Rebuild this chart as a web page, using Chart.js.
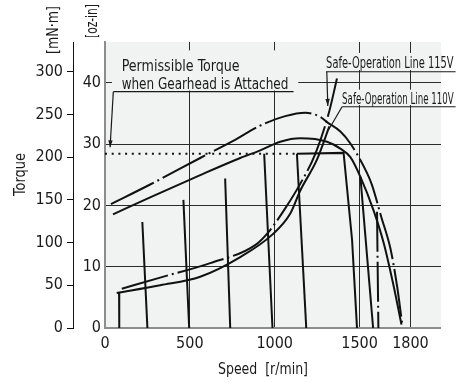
<!DOCTYPE html>
<html>
<head>
<meta charset="utf-8">
<script src="https://cdn.jsdelivr.net/npm/chart.js@4.4.1/dist/chart.umd.min.js"></script>
<style>
  html, body { margin: 0; padding: 0; background: #fff; }
  canvas { display: block; }
</style>
</head>
<body>
<canvas id="chart" width="467" height="383"></canvas>
<script>
// Axis ticks
const speedTicks = [0, 500, 1000, 1500, 1800];          // r/min
const torqueTicks = [0, 50, 100, 150, 200, 250, 300];   // mN·m
const ozTicks = [0, 10, 20, 30, 40];                     // oz-in

// Speed-torque curve at 115V (dash-dot)
const full115Speed  = [35, 266, 561, 755, 915, 1062, 1180, 1269, 1308, 1387, 1446, 1545, 1574, 1628, 1682, 1722, 1751];
const full115Torque = [145, 168, 199, 219, 237, 248, 252, 247, 241, 230, 216, 181, 167, 130, 93, 48, 5];

// Speed-torque curve at 110V (solid)
const full110Speed  = [47, 266, 561, 797, 915, 1033, 1151, 1308, 1387, 1446, 1505, 1582, 1643, 1700, 1747];
const full110Torque = [133, 153, 179, 199, 208, 218, 222, 218, 210, 200, 177, 138, 99, 50, 4];

// Safe-operation lines
const safe115Speed  = [99, 325, 620, 885, 962, 1062, 1151, 1240, 1318, 1367];
const safe115Torque = [46, 59, 76, 97, 112, 140, 169, 204, 251, 292];
const safe110Speed  = [69, 325, 561, 797, 984, 1092, 1151, 1249, 1322];
const safe110Torque = [41, 50, 60, 83, 109, 134, 161, 197, 236];

// Speed-setting lines (top point -> bottom point at zero torque)
const setTopSpeed     = [83, 220, 462, 708, 938, 1131, 1505];
const setTopTorque    = [41, 124, 150, 175, 204, 204, 177];
const setBottomSpeed  = [84, 250, 496, 738, 987, 1186, 1580];
const dashSetSpeed  = [1603, 1611];   // 115V setting line
const dashSetTorque = [136, 0];

// Permissible torque when gearhead is attached
const permSpeed  = [0, 1131];
const permTorque = [204, 204];
const boxSpeed   = [1131, 1406, 1456, 1485];
const boxTorque  = [204, 205, 103, 0];

const X_MAX = 1980, Y_MAX = 334.8, OZ_MAX = 46.64;
const PLOT_BG = '#f0f3f2';
const INK = '#111';

function pickFont() {
  const c = document.createElement('canvas').getContext('2d');
  const probe = 'Permissible Torque 0123';
  c.font = '40px monospace';
  const base = c.measureText(probe).width;
  for (const f of ['Liberation Sans Narrow', 'DejaVu Sans Condensed', 'Roboto Condensed']) {
    c.font = `40px "${f}", monospace`;
    if (c.measureText(probe).width !== base) return `"${f}", "Liberation Sans", sans-serif`;
  }
  return '"Liberation Sans", sans-serif';
}
const FONT = pickFont();

const pts = (xs, ys) => xs.map((x, i) => ({ x, y: ys[i] }));
const DASHDOT = [48, 4, 2, 4];

const datasets = [
  { data: pts(full115Speed, full115Torque), borderDash: DASHDOT, cubicInterpolationMode: 'monotone' },
  { data: pts(full110Speed, full110Torque), cubicInterpolationMode: 'monotone' },
  { data: pts(safe115Speed, safe115Torque), borderDash: DASHDOT, cubicInterpolationMode: 'monotone' },
  { data: pts(safe110Speed, safe110Torque), cubicInterpolationMode: 'monotone' },
  { data: pts(permSpeed, permTorque), borderDash: [2, 4.7], borderCapStyle: 'butt' },
  { data: pts(boxSpeed, boxTorque) },
  { data: pts(dashSetSpeed, dashSetTorque), borderDash: [40, 4, 2, 4] }
];
setTopSpeed.forEach((s, i) => {
  datasets.push({ data: [{ x: s, y: setTopTorque[i] }, { x: setBottomSpeed[i], y: 0 }] });
});

// Panels behind annotation text: [speed0, torque0, speed1, torque1]
const panels = [
  [41, 325, 1139, 278],
  [1275, 322, 2100, 302],
  [1375, 279, 2100, 261]
];

function fitText(ctx, str, x, y, size, width, opts = {}) {
  ctx.save();
  ctx.font = `${size}px ${FONT}`;
  ctx.textAlign = opts.align || 'left';
  ctx.textBaseline = opts.baseline || 'alphabetic';
  const w = ctx.measureText(str).width;
  ctx.translate(x, y);
  if (opts.rot) ctx.rotate(opts.rot);
  if (width) ctx.scale(width / w, 1);
  ctx.fillText(str, 0, 0);
  ctx.restore();
}

function arrow(ctx, x0, y0, x1, y1) {
  ctx.beginPath(); ctx.moveTo(x0, y0); ctx.lineTo(x1, y1); ctx.stroke();
  const a = Math.atan2(y1 - y0, x1 - x0), L = 7, W = 2.2;
  ctx.beginPath();
  ctx.moveTo(x1, y1);
  ctx.lineTo(x1 - L * Math.cos(a) + W * Math.sin(a), y1 - L * Math.sin(a) - W * Math.cos(a));
  ctx.lineTo(x1 - L * Math.cos(a) - W * Math.sin(a), y1 - L * Math.sin(a) + W * Math.cos(a));
  ctx.closePath(); ctx.fill();
}

const notes = {
  id: 'notes',
  beforeDraw(chart) {
    const { ctx, chartArea: a } = chart;
    ctx.save();
    ctx.fillStyle = PLOT_BG;
    ctx.fillRect(a.left, a.top, a.right - a.left, a.bottom - a.top);
    ctx.restore();
  },
  beforeDatasetsDraw(chart) {
    const { ctx, chartArea: a, scales } = chart;
    const P = (s, t) => [scales.x.getPixelForValue(s), scales.y.getPixelForValue(t)];
    ctx.save();
    ctx.beginPath(); ctx.rect(a.left + 1, a.top, a.right - a.left, a.bottom - a.top); ctx.clip();
    ctx.fillStyle = PLOT_BG;
    panels.forEach(([s0, t0, s1, t1]) => {
      const [x0, y0] = P(s0, t0), [x1, y1] = P(s1, t1);
      ctx.fillRect(x0, y0, x1 - x0, y1 - y0);
    });
    ctx.restore();
  },
  afterDatasetsDraw(chart) {
    const { ctx, scales } = chart;
    const P = (s, t) => [scales.x.getPixelForValue(s), scales.y.getPixelForValue(t)];
    ctx.save();
    ctx.fillStyle = '#1a1a1a';
    ctx.strokeStyle = '#1a1a1a';
    ctx.lineWidth = 1.2;

    // Permissible torque note
    let p = P(98, 301.4); fitText(ctx, 'Permissible Torque', p[0], p[1], 16, 118);
    p = P(98, 280.3); fitText(ctx, 'when Gearhead is Attached', p[0], p[1], 16, 166.7);
    let u0 = P(49, 276.6), u1 = P(1111, 276.6);
    ctx.beginPath(); ctx.moveTo(u0[0], u0[1]); ctx.lineTo(u1[0], u1[1]); ctx.stroke();
    let tip = P(30, 211.5); arrow(ctx, u0[0], u0[1], tip[0], tip[1]);

    // Safe-operation line 115V
    p = P(1303, 304.3); fitText(ctx, 'Safe-Operation Line 115V', p[0], p[1], 15, 127.5);
    u0 = P(1303, 300); u1 = P(2066, 300);
    ctx.beginPath(); ctx.moveTo(u0[0], u0[1]); ctx.lineTo(u1[0], u1[1]); ctx.stroke();
    u0 = P(1307, 300); tip = P(1313, 260); arrow(ctx, u0[0], u0[1], tip[0], tip[1]);

    // Safe-operation line 110V
    p = P(1397, 262.7); fitText(ctx, 'Safe-Operation Line 110V', p[0], p[1], 15, 111.7);
    u0 = P(1397, 259); u1 = P(2066, 259);
    ctx.beginPath(); ctx.moveTo(u0[0], u0[1]); ctx.lineTo(u1[0], u1[1]); ctx.stroke();
    tip = P(1318, 232);
    ctx.beginPath(); ctx.moveTo(u0[0], u0[1]); ctx.lineTo(tip[0], tip[1]); ctx.stroke();

    // Axis titles
    fitText(ctx, 'Torque', 21, 174.5, 16, 43, { align: 'center', baseline: 'middle', rot: -Math.PI / 2 });
    fitText(ctx, '[mN·m]', 53.5, 30, 16, 48, { align: 'center', baseline: 'middle', rot: -Math.PI / 2 });
    fitText(ctx, '[oz-in]', 92.5, 21, 16, 34, { align: 'center', baseline: 'middle', rot: -Math.PI / 2 });
    fitText(ctx, 'Speed  [r/min]', 263, 373.5, 16, 90, { align: 'center' });
    ctx.restore();
  }
};

const tickFont = { family: FONT, size: 16 };
const plain = v => String(v);

new Chart(document.getElementById('chart'), {
  type: 'line',
  data: { datasets },
  plugins: [notes],
  options: {
    responsive: false,
    animation: false,
    devicePixelRatio: 1,
    layout: { padding: { left: 0, right: 26, top: 42, bottom: 0 } },
    plugins: { legend: { display: false }, tooltip: { enabled: false } },
    elements: {
      point: { radius: 0 },
      line: { borderWidth: 2, borderColor: INK, fill: false, tension: 0 }
    },
    scales: {
      x: {
        type: 'linear', min: 0, max: X_MAX,
        afterBuildTicks: s => { s.ticks = speedTicks.map(v => ({ value: v })); },
        afterFit: s => { s.height = 55; },
        grid: { drawTicks: false, color: '#2a2a2a', lineWidth: c => (c.tick && c.tick.value === 0 ? 0 : 1) },
        border: { display: true, color: '#8d8d8d', width: 2 },
        ticks: { padding: 6, color: '#1a1a1a', font: tickFont, maxRotation: 0, callback: plain }
      },
      y: {
        type: 'linear', position: 'left', weight: 1, min: 0, max: Y_MAX,
        afterBuildTicks: s => { s.ticks = torqueTicks.map(v => ({ value: v })); },
        afterFit: s => { s.width = 73; },
        grid: { drawOnChartArea: false, drawTicks: true, tickLength: 6, color: INK, lineWidth: 1 },
        border: { display: true, color: INK, width: 1 },
        ticks: { padding: 4, color: '#1a1a1a', font: tickFont, callback: plain }
      },
      oz: {
        type: 'linear', position: 'left', weight: 0, min: 0, max: OZ_MAX,
        afterBuildTicks: s => { s.ticks = ozTicks.map(v => ({ value: v })); },
        afterFit: s => { s.width = 32; },
        grid: { drawTicks: false, color: '#2a2a2a', lineWidth: c => (c.tick && c.tick.value === 0 ? 0 : 1) },
        border: { display: true, color: '#8d8d8d', width: 2 },
        ticks: { padding: 4, color: '#1a1a1a', font: tickFont, callback: plain }
      }
    }
  }
});
</script>
</body>
</html>
